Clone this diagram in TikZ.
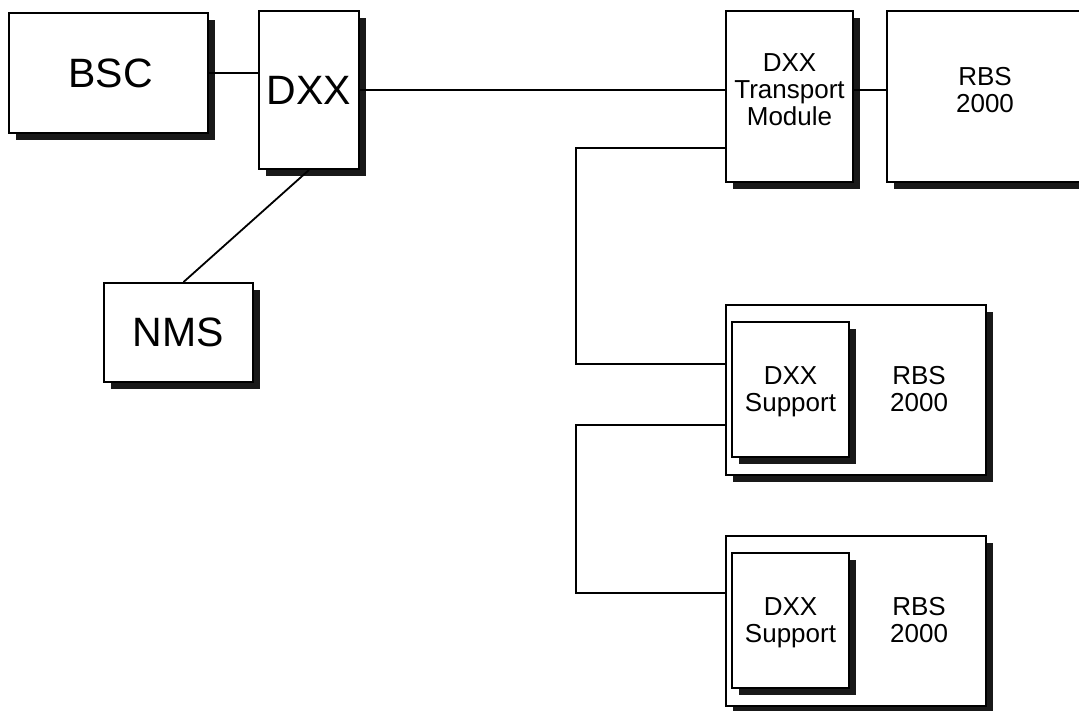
\documentclass[tikz,border=0pt]{standalone}
\usepackage{fontspec}
\setmainfont{Liberation Sans}
\usetikzlibrary{positioning, shadows}

\begin{document}
\begin{tikzpicture}[
    x=1pt, y=-1pt,
    box/.style={rectangle, draw, line width=1.9pt, fill=white, inner sep=0pt, align=center,
        drop shadow={shadow xshift=7pt, shadow yshift=-7pt, fill=black!90, opacity=1}},
    big/.style={font=\fontsize{41}{41}\selectfont},
    lbl/.style={align=center, inner sep=0pt, font=\fontsize{26}{27}\selectfont},
    link/.style={line width=1.8pt}
]
    \useasboundingbox (0,0) rectangle (1079,710);
    \clip (0,0) rectangle (1079,710);
    % central site
    \node[box, big, minimum width=199pt, minimum height=120pt] (bsc) at (108.5,73) {\hspace{4pt}BSC};
    \node[box, big, minimum width=100pt, minimum height=158pt] (dxx) at (309,90) {DXX};
    \node[box, big, minimum width=149pt, minimum height=99pt] (nms) at (178.5,332.5) {NMS};
    % first remote site
    \node[box, lbl, minimum width=127pt, minimum height=171pt, text depth=13pt] (tm) at (789.5,96.5) {DXX\\Transport\\Module};
    \node[box, lbl, minimum width=196pt, minimum height=171pt, text depth=13pt] (rbs1) at (985,96.5) {RBS\\2000};
    % chained sites
    \node[box, minimum width=260pt, minimum height=170pt] (rbs2) at (856,390) {};
    \node[box, lbl, minimum width=117pt, minimum height=135pt, text depth=0pt, anchor=north west] (sup2) at ([shift={(6,17)}]rbs2.north west) {DXX\\Support};
    \node[lbl, right=40pt of sup2] (rbs2txt) {RBS\\2000};
    \node[box, minimum width=260pt, minimum height=170pt] (rbs3) at (856,621) {};
    \node[box, lbl, minimum width=117pt, minimum height=135pt, text depth=0pt, anchor=north west] (sup3) at ([shift={(6,17)}]rbs3.north west) {DXX\\Support};
    \node[lbl, right=40pt of sup3] (rbs3txt) {RBS\\2000};
    % links
    \draw[link] (bsc.east) -- (bsc.east -| dxx.west);
    \draw[link] (dxx.east) -- (dxx.east -| tm.west);
    \draw[link] (dxx.east -| tm.east) -- (dxx.east -| rbs1.west);
    \draw[link] (dxx.south) -- ([xshift=5pt]nms.north);
    \draw[link] ([yshift=-51.5pt]tm.west) -| ([xshift=-149pt, yshift=26pt]rbs2.west) -- ([yshift=26pt]rbs2.west);
    \draw[link] ([yshift=-35pt]rbs2.west) -| ([xshift=-149pt, yshift=28pt]rbs3.west) -- ([yshift=28pt]rbs3.west);
\end{tikzpicture}
\end{document}
